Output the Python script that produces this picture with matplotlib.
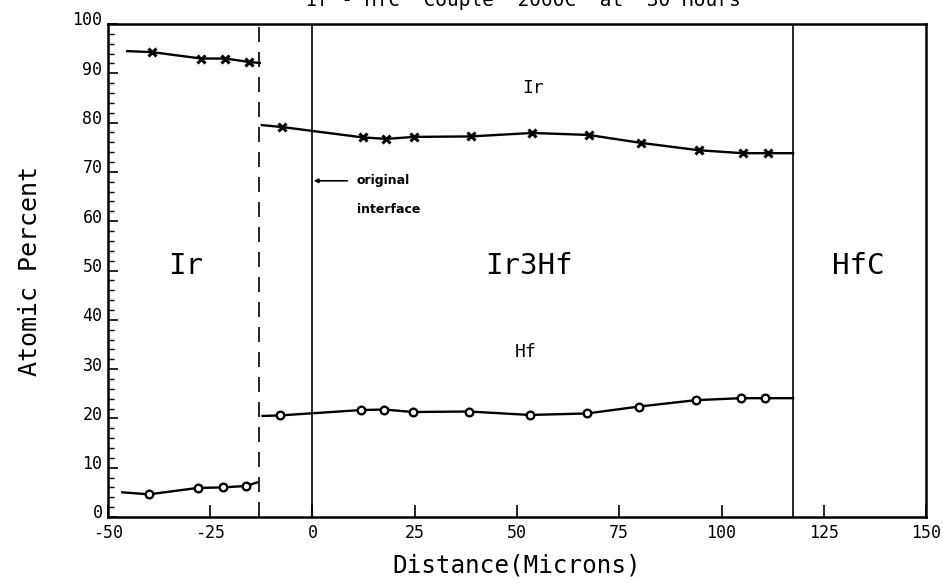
import numpy as np
import matplotlib
matplotlib.use("Agg")
import matplotlib.pyplot as plt
import matplotlib.transforms as mtrans

# --- dados ---
# Ir, lado esquerdo (Ir puro) e região Ir3Hf
ir_esq_x = [-45.3, -39.2, -27.2, -21.3, -15.5, -12.9]
ir_esq_y = [94.5, 94.3, 93.0, 93.0, 92.3, 92.1]
ir_meio_x = [-12.4, -7.4, 12.3, 18.0, 24.9, 38.7, 53.7, 67.5, 80.2, 94.4, 105.2, 111.3, 117.5]
ir_meio_y = [79.5, 79.1, 77.0, 76.7, 77.1, 77.2, 77.9, 77.5, 75.9, 74.4, 73.8, 73.8, 73.8]

# Hf
hf_esq_x = [-46.5, -40.0, -28.0, -22.0, -16.2, -13.6]
hf_esq_y = [5.0, 4.6, 5.9, 6.0, 6.3, 7.0]
hf_meio_x = [-12.2, -8.0, 11.9, 17.6, 24.5, 38.3, 53.1, 67.1, 79.8, 93.7, 104.7, 110.7, 117.5]
hf_meio_y = [20.5, 20.6, 21.7, 21.8, 21.3, 21.4, 20.7, 21.0, 22.4, 23.7, 24.1, 24.1, 24.1]

# fronteiras
x_tracejada = -13
x_interface = 0
x_hfc = 117.5

xticks = [-50, -25, 0, 25, 50, 75, 100, 125, 150]
yticks = list(range(0, 101, 10))

plt.rcParams['font.family'] = ['DejaVu Sans Mono']
plt.rcParams['axes.unicode_minus'] = False

fig = plt.figure(figsize=(9.43, 5.83), dpi=100)
ax = fig.add_axes([0.1145, 0.1132, 0.8675, 0.8456])

ax.set_xlim(-50, 150)
ax.set_ylim(0, 100)

cor = 'black'
# curvas (sem marcador nas pontas)
for xs, ys in [(ir_esq_x, ir_esq_y), (ir_meio_x, ir_meio_y)]:
    ax.plot(xs, ys, color=cor, lw=1.7)
    ax.plot(xs[1:-1], ys[1:-1], ls='none', marker='x', ms=5.5, mew=2.2, color=cor)
for xs, ys in [(hf_esq_x, hf_esq_y), (hf_meio_x, hf_meio_y)]:
    ax.plot(xs, ys, color=cor, lw=1.7)
    ax.plot(xs[1:-1], ys[1:-1], ls='none', marker='o', ms=5.5, mew=1.7,
            mfc='white', mec=cor)

# linhas verticais
ax.axvline(x_tracejada, color=cor, lw=1.2, ls=(0, (9, 6)))
ax.axvline(x_interface, color=cor, lw=1.2)
ax.axvline(x_hfc, color=cor, lw=1.2)

# textos das regiões
fs_reg = 21
ax.text(-31, 51, 'Ir', fontsize=fs_reg, ha='center', va='center')
ax.text(53, 51, 'Ir3Hf', fontsize=fs_reg, ha='center', va='center')
ax.text(133.5, 51, 'HfC', fontsize=fs_reg, ha='center', va='center')
ax.text(54, 87, 'Ir', fontsize=13, ha='center', va='center')
ax.text(52, 33.5, 'Hf', fontsize=13, ha='center', va='center')

# interface original
ax.annotate('', xy=(0.3, 68.2), xytext=(8.5, 68.2),
            arrowprops=dict(arrowstyle='-|>', color=cor, lw=1.2,
                            mutation_scale=6, shrinkA=0, shrinkB=0))
ax.text(10.8, 68.2, 'original', fontsize=9, fontweight='bold', va='center',
        family='DejaVu Sans')
ax.text(10.8, 62.4, 'interface', fontsize=9, fontweight='bold', va='center',
        family='DejaVu Sans')

# eixos
ax.set_xticks(xticks)
ax.set_yticks(yticks)
ax.set_yticks(np.arange(0, 101, 2), minor=True)
ax.tick_params(axis='both', direction='in', labelsize=12, width=1.2)
ax.tick_params(axis='x', length=9, pad=5)
ax.tick_params(axis='y', length=7, pad=4)
ax.tick_params(axis='y', which='minor', direction='in', length=4, width=1.0)
ax.tick_params(top=False, right=False)
for s in ax.spines.values():
    s.set_linewidth(1.8)

# rótulos do eixo y um pouco acima do traço, como no original
desloc = mtrans.ScaledTranslation(0, 4 / 72, fig.dpi_scale_trans)
for lab in ax.get_yticklabels():
    lab.set_transform(lab.get_transform() + desloc)

ax.set_xlabel('Distance(Microns)', fontsize=17.5, labelpad=8)
ax.set_ylabel('Atomic Percent', fontsize=18, labelpad=22)

# título (cortado no topo, como no original)
fig.text(0.555, 1 - 6 / 583, 'Ir - HfC  Couple  2000C  at  30 Hours', fontsize=14,
         ha='center', va='baseline')

fig.savefig('out.png', dpi=100)
